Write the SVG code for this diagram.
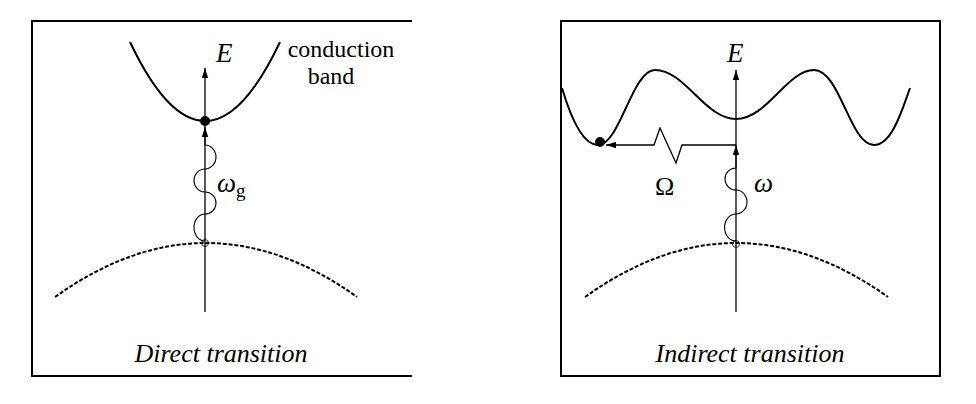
<svg xmlns="http://www.w3.org/2000/svg" width="976" height="404" viewBox="0 0 976 404">
<style>
.frame{fill:none;stroke:#000;stroke-width:2}
.band{fill:none;stroke:#000;stroke-width:2}
.val{fill:none;stroke:#000;stroke-width:2;stroke-dasharray:4 1.8}
.axis{fill:none;stroke:#000;stroke-width:1.3}
.photon{fill:none;stroke:#000;stroke-width:1.1}
text{fill:#000;font-family:"Liberation Serif","Times New Roman",Times,"Noto Serif","DejaVu Serif",serif}
.it{font-style:italic}
</style>
<defs>
<marker id="ah" viewBox="0 0 10 10" refX="10" refY="5" markerWidth="10" markerHeight="10" markerUnits="userSpaceOnUse" orient="auto">
<path d="M0,1.8 L10,5 L0,8.2 Z" fill="#000"/>
</marker>
</defs>
<g id="frames">
<path class="frame" d="M412,21 H32 V376 H412"/>
<rect class="frame" x="561" y="21" width="379" height="355"/>
</g>
<g id="direct">
<g id="cb-left"><path class="band" d="M130,42 Q205,200 280,42"/></g>
<g id="vb-left"><path class="val" d="M55,297 Q206,189 357,297"/></g>
<circle id="electron-left" cx="205" cy="121" r="5" fill="#000"/>
<circle id="hole-left" cx="205" cy="243" r="3.5" fill="none" stroke="#000" stroke-width="0.8"/>
<text class="it" x="216" y="62" font-size="27">E</text>
<text x="341" y="57" font-size="24" text-anchor="middle">conduction</text>
<text x="331" y="84" font-size="24" text-anchor="middle">band</text>
<text class="it" x="217" y="192" font-size="27">ω<tspan font-style="normal" font-size="19" dy="5">g</tspan></text>
<text class="it" x="221" y="362" font-size="26" text-anchor="middle">Direct transition</text>
</g>
<g id="indirect">
<g id="cb-right"><path class="band" d="M562,88 C570,115 582,145 598,145 C620,145 632,70 655,70 C685,70 705,119 736,119 C767,119 787,70 814,70 C840,70 850,145 874,145 C892,145 902,110 910,88"/></g>
<g id="vb-right"><path class="val" d="M585,297 Q736,189 888,297"/></g>
<circle id="electron-right" cx="600" cy="142" r="5" fill="#000"/>
<circle id="hole-right" cx="736" cy="244" r="3.5" fill="none" stroke="#000" stroke-width="0.8"/>
<text class="it" x="727" y="62" font-size="27">E</text>
<text class="it" x="754" y="192" font-size="27">ω</text>
<text x="655" y="195" font-size="26">Ω</text>
<text class="it" x="750" y="362" font-size="26" text-anchor="middle">Indirect transition</text>
</g>
<g id="connectors">
<path class="axis" d="M205,312 V68" marker-end="url(#ah)"/>
<path class="photon" d="M205,241 A11,13.5 0 0 1 205,214 A11,11 0 0 0 205,192 A11,11.5 0 0 1 205,169 A11,12 0 0 0 205,145 V127" marker-end="url(#ah)"/>
<path class="axis" d="M736,312 V70" marker-end="url(#ah)"/>
<path class="photon" d="M736,241 A11,13 0 0 1 736,214 A11,12 0 0 0 736,190 A11,11 0 0 1 736,168 V145" marker-end="url(#ah)"/>
<path class="axis" d="M736,145 H682 L676,163 L660,128 L654,145 H606" marker-end="url(#ah)"/>
</g>
</svg>
